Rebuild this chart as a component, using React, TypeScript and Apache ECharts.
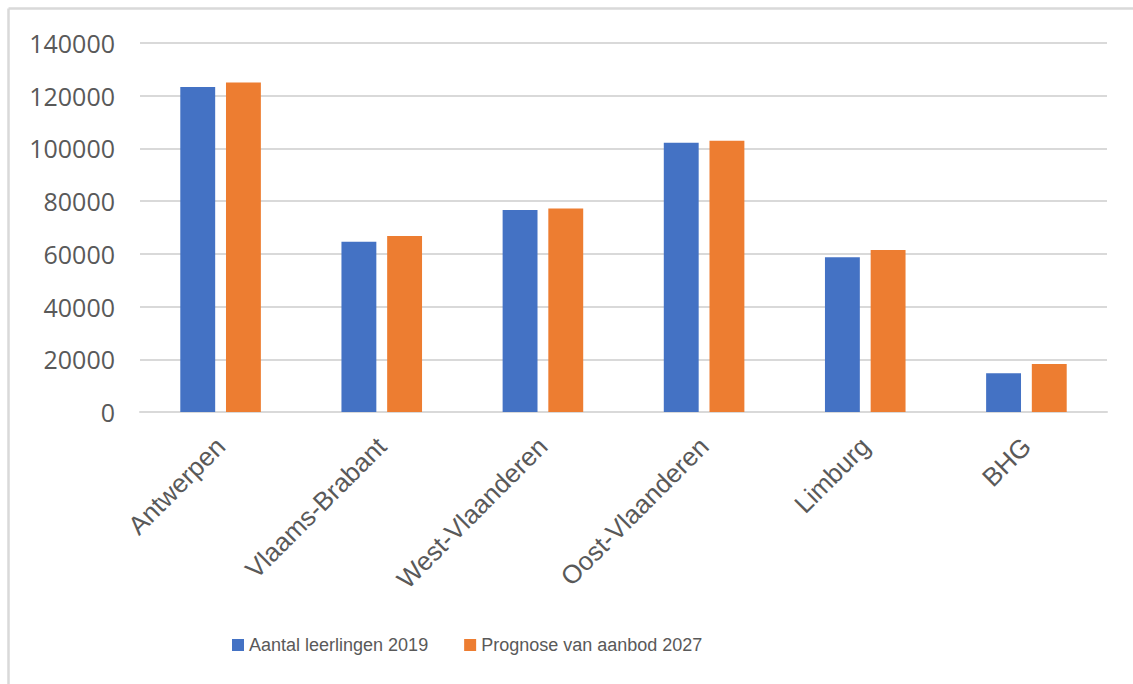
import React, { useEffect, useRef } from "react";
import * as echarts from "echarts";

const regions = ["Antwerpen", "Vlaams-Brabant", "West-Vlaanderen", "Oost-Vlaanderen", "Limburg", "BHG"];
const pupils2019 = [123300, 64600, 76600, 102200, 58700, 14700];
const forecast2027 = [125000, 66800, 77200, 102900, 61500, 18200];
const seriesNames = ["Aantal leerlingen 2019", "Prognose van aanbod 2027"];

const TEXT = "#595959";
const GRID = "#d9d9d9";
const SANS = "'Liberation Sans', Arial, sans-serif";

export default function App() {
  const ref = useRef<HTMLDivElement>(null);

  useEffect(() => {
    document.body.style.margin = "0";
    const chart = echarts.init(ref.current!, null, { renderer: "svg" });
    chart.setOption({
      animation: false,
      backgroundColor: "#ffffff",
      // outer chart frame (left and top edges)
      graphic: [
        { type: "line", shape: { x1: 8.5, y1: 8.5, x2: 8.5, y2: 700 }, style: { stroke: GRID, lineWidth: 2.5 } },
        { type: "line", shape: { x1: 8.5, y1: 8.5, x2: 1140, y2: 8.5 }, style: { stroke: GRID, lineWidth: 2.5 } },
      ],
      grid: { left: 140, right: 26, top: 43, bottom: 272 },
      legend: {
        left: 227,
        top: 631,
        itemWidth: 12,
        itemHeight: 12,
        itemGap: 36,
        icon: "rect",
        textStyle: { color: TEXT, fontSize: 18, fontFamily: SANS, padding: [0, 0, 0, 0] },
        data: seriesNames,
      },
      xAxis: {
        type: "category",
        data: regions,
        axisLine: { lineStyle: { color: GRID, width: 2 } },
        axisTick: { show: false },
        axisLabel: { rotate: 45, margin: 30, color: TEXT, fontSize: 26, fontFamily: SANS, interval: 0 },
      },
      yAxis: {
        type: "value",
        min: 0,
        max: 140000,
        interval: 20000,
        axisLine: { show: false },
        axisTick: { show: false },
        splitLine: { lineStyle: { color: GRID, width: 2 } },
        axisLabel: {
          margin: 25,
          color: TEXT,
          fontSize: 25,
          fontFamily: "'Open Sans', sans-serif",
          formatter: (v: number) => String(v),
        },
      },
      series: [
        {
          name: seriesNames[0],
          type: "bar",
          data: pupils2019,
          itemStyle: { color: "#4472C4" },
          barGap: "31%",
          barCategoryGap: "50%",
        },
        {
          name: seriesNames[1],
          type: "bar",
          data: forecast2027,
          itemStyle: { color: "#ED7D31" },
        },
      ],
    });
    return () => chart.dispose();
  }, []);

  return <div ref={ref} style={{ width: 1133, height: 684 }} />;
}
